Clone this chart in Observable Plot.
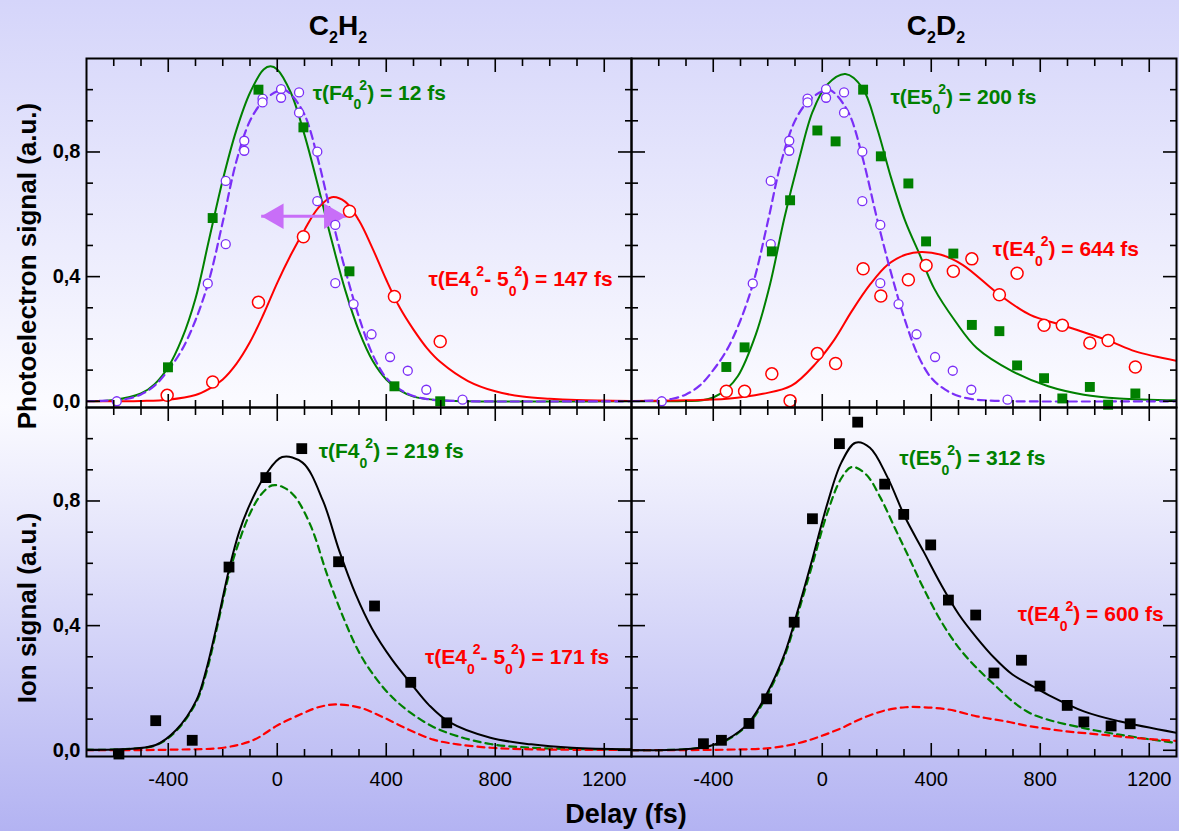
<!DOCTYPE html>
<html><head><meta charset="utf-8">
<script src="https://cdn.jsdelivr.net/npm/d3@7"></script>
<script src="https://cdn.jsdelivr.net/npm/@observablehq/plot@0.6"></script>
<style>
html,body{margin:0;padding:0;}
#root{position:relative;width:1179px;height:831px;overflow:hidden;
 background:linear-gradient(180deg,#d5d5fa 0%,#fbfbff 49%,#b3b3f2 100%);
 font-family:"Liberation Sans",Arial,Helvetica,sans-serif;}
#root svg{position:absolute;}
</style></head><body><div id="root"></div>
<script>
// ---------- axes ----------
const xDomain = [-700, 1300];
const yDomain = [-0.02, 1.1];
const xMajorTicks = [-400, 0, 400, 800, 1200];
const xTickLabels = ["-400", "0", "400", "800", "1200"];
const xMinorTicks = [-600, -500, -300, -200, -100, 100, 200, 300, 500, 600, 700, 900, 1000, 1100];
const yMajorTicks = [0, 0.4, 0.8];
const yTickLabels = ["0,0", "0,4", "0,8"];
const yMinorTicks = [0.1, 0.2, 0.3, 0.5, 0.6, 0.7, 0.9, 1.0];

const columnTitles = [["C", "2", "H", "2"], ["C", "2", "D", "2"]];
const rowLabels = ["Photoelectron signal (a.u.)", "Ion signal (a.u.)"];
const xLabel = "Delay (fs)";

// ---------- photoelectron, C2H2 ----------
const peH_greenX = [-401, -237, -69, 96, 265, 430, 598];
const peH_greenY = [0.109, 0.588, 1.0, 0.879, 0.417, 0.048, 0.0];
const peH_redX = [-404, -237, -69, 96, 265, 430, 598];
const peH_redY = [0.019, 0.062, 0.318, 0.528, 0.61, 0.336, 0.192];
// cross-correlation (purple), same in both columns
const xc_X = [-589, -255, -189, -189, -121, -121, -54, -54, 14, 14, 80, 80, 147, 147, 213, 213, 280, 346, 414, 479, 547, 680];
const xc_Y = [0.0, 0.378, 0.707, 0.504, 0.804, 0.836, 0.971, 0.959, 1.002, 0.974, 0.991, 0.926, 0.801, 0.642, 0.566, 0.379, 0.312, 0.215, 0.142, 0.098, 0.037, 0.005];
const xcFitX = [-700, -600, -550, -500, -450, -400, -350, -300, -250, -200, -150, -100, -50, 0, 25, 50, 100, 150, 200, 250, 300, 350, 400, 450, 500, 550, 600, 700, 1300];
const xcFitY = [0, 0.003, 0.008, 0.022, 0.05, 0.10, 0.165, 0.26, 0.39, 0.575, 0.77, 0.9, 0.965, 0.995, 1.0, 0.985, 0.92, 0.775, 0.59, 0.42, 0.27, 0.15, 0.075, 0.038, 0.017, 0.007, 0.003, 0, 0];
const peH_greenFitX = [-700, -600, -500, -450, -400, -350, -300, -250, -200, -150, -100, -50, -25, 0, 50, 100, 150, 200, 250, 300, 350, 400, 450, 500, 600, 700, 1300];
const peH_greenFitY = [0, 0.004, 0.025, 0.055, 0.11, 0.2, 0.33, 0.52, 0.71, 0.87, 0.99, 1.065, 1.075, 1.065, 0.99, 0.855, 0.69, 0.515, 0.355, 0.225, 0.13, 0.07, 0.035, 0.015, 0.003, 0, 0];
const peH_redFitX = [-700, -500, -400, -300, -250, -200, -150, -100, -50, 0, 50, 100, 150, 200, 250, 300, 350, 400, 450, 500, 550, 600, 700, 800, 900, 1000, 1100, 1300];
const peH_redFitY = [0, 0.001, 0.005, 0.02, 0.04, 0.07, 0.12, 0.19, 0.28, 0.38, 0.47, 0.55, 0.62, 0.655, 0.64, 0.58, 0.49, 0.39, 0.30, 0.23, 0.17, 0.125, 0.065, 0.032, 0.015, 0.008, 0.004, 0.001];
const arrowX = [-59, 254];
const arrowY = 0.594;

// ---------- photoelectron, C2D2 ----------
const peD_X = [-352, -285, -185, -118, -18, 49, 150, 215, 316, 381, 481, 549, 650, 715, 814, 881, 982, 1049, 1149];
const peD_greenY = [0.110, 0.173, 0.481, 0.645, 0.869, 0.834, 1.0, 0.786, 0.699, 0.513, 0.474, 0.245, 0.225, 0.115, 0.074, 0.009, 0.046, -0.011, 0.025];
const peD_redY = [0.032, 0.032, 0.088, 0.002, 0.153, 0.121, 0.425, 0.338, 0.39, 0.436, 0.417, 0.457, 0.342, 0.411, 0.244, 0.244, 0.187, 0.195, 0.11];
const peD_greenFitX = [-700, -500, -440, -400, -350, -310, -244, -192, -139, -87, -35, 18, 85, 148, 201, 253, 305, 358, 410, 489, 567, 698, 829, 960, 1090, 1300];
const peD_greenFitY = [0, 0.001, 0.003, 0.012, 0.04, 0.08, 0.214, 0.374, 0.588, 0.77, 0.93, 1.016, 1.05, 1.005, 0.877, 0.716, 0.577, 0.47, 0.363, 0.256, 0.171, 0.096, 0.048, 0.021, 0.009, 0.003];
const peD_redFitX = [-700, -500, -349, -218, -113, -22, 44, 109, 175, 240, 305, 364, 436, 515, 650, 763, 881, 1049, 1149, 1300];
const peD_redFitY = [0.001, 0.003, 0.008, 0.024, 0.05, 0.123, 0.197, 0.29, 0.374, 0.438, 0.47, 0.479, 0.47, 0.438, 0.342, 0.277, 0.244, 0.195, 0.16, 0.13];

// ---------- ion, C2H2 ----------
const ionH_X = [-581, -446, -312, -177, -42, 90, 225, 357, 490, 622];
const ionH_Y = [-0.012, 0.095, 0.032, 0.588, 0.875, 0.968, 0.605, 0.463, 0.218, 0.088];
const ionH_fitX = [-700, -573, -446, -371, -297, -260, -222, -177, -140, -100, -42, 18, 93, 168, 228, 288, 348, 422, 490, 557, 632, 782, 932, 1082, 1300];
const ionH_fitY = [0.002, 0.003, 0.017, 0.065, 0.16, 0.26, 0.40, 0.58, 0.70, 0.79, 0.885, 0.941, 0.923, 0.8, 0.639, 0.5, 0.39, 0.29, 0.215, 0.145, 0.09, 0.04, 0.019, 0.008, 0.003];
const ionH_greenX = [-700, -573, -446, -371, -297, -260, -222, -177, -140, -100, -60, -19, 20, 63, 123, 183, 243, 303, 363, 422, 490, 573, 662, 782, 932, 1300];
const ionH_greenY = [0.002, 0.003, 0.016, 0.062, 0.155, 0.25, 0.39, 0.565, 0.67, 0.76, 0.82, 0.85, 0.845, 0.816, 0.72, 0.564, 0.425, 0.31, 0.23, 0.17, 0.12, 0.075, 0.045, 0.02, 0.008, 0.002];
const ionH_redX = [-700, -379, -192, -87, 3, 93, 150, 213, 303, 393, 483, 573, 662, 782, 932, 1300];
const ionH_redY = [0, 0.002, 0.009, 0.033, 0.081, 0.118, 0.138, 0.147, 0.137, 0.104, 0.066, 0.034, 0.019, 0.008, 0.003, 0.001];

// ---------- ion, C2D2 ----------
const ionD_X = [-436, -370, -269, -204, -103, -36, 63, 130, 229, 299, 398, 463, 563, 630, 731, 799, 899, 960, 1060, 1130];
const ionD_Y = [0.021, 0.032, 0.086, 0.165, 0.411, 0.743, 0.984, 1.053, 0.854, 0.757, 0.659, 0.482, 0.434, 0.248, 0.289, 0.206, 0.144, 0.091, 0.078, 0.085];
const ionD_fitX = [-700, -506, -414, -349, -270, -205, -139, -87, -35, 18, 70, 122, 175, 240, 305, 371, 436, 502, 567, 632, 698, 763, 829, 960, 1090, 1300];
const ionD_fitY = [0, 0.003, 0.014, 0.035, 0.088, 0.179, 0.308, 0.457, 0.618, 0.789, 0.923, 0.987, 0.971, 0.875, 0.746, 0.639, 0.532, 0.435, 0.361, 0.296, 0.243, 0.21, 0.178, 0.125, 0.093, 0.056];
const ionD_greenX = [-700, -506, -414, -349, -270, -205, -139, -87, -35, 18, 70, 109, 161, 214, 266, 319, 371, 436, 502, 567, 632, 698, 763, 829, 960, 1090, 1300];
const ionD_greenY = [0, 0.003, 0.013, 0.033, 0.085, 0.172, 0.30, 0.445, 0.60, 0.76, 0.873, 0.909, 0.885, 0.81, 0.714, 0.617, 0.521, 0.414, 0.328, 0.264, 0.21, 0.157, 0.119, 0.098, 0.071, 0.05, 0.023];
const ionD_redX = [-700, -349, -192, -87, -9, 70, 148, 227, 305, 371, 462, 567, 672, 763, 894, 1025, 1156, 1300];
const ionD_redY = [0, 0.002, 0.007, 0.023, 0.044, 0.071, 0.103, 0.127, 0.138, 0.138, 0.131, 0.109, 0.093, 0.077, 0.061, 0.05, 0.039, 0.03];

// ---------- annotations (x in fs, y in a.u.) ----------
const annTL_X = [130, 555], annTL_Y = [0.99, 0.39], annTL_T = ["τ(F4_0^2) = 12 fs", "τ(E4_0^2- 5_0^2) = 147 fs"];
const annTR_X = [250, 626], annTR_Y = [0.975, 0.488], annTR_T = ["τ(E5_0^2) = 200 fs", "τ(E4_0^2) = 644 fs"];
const annBL_X = [152, 542], annBL_Y = [0.96, 0.299], annBL_T = ["τ(F4_0^2) = 219 fs", "τ(E4_0^2- 5_0^2) = 171 fs"];
const annBR_X = [283, 717], annBR_Y = [0.938, 0.437], annBR_T = ["τ(E5_0^2) = 312 fs", "τ(E4_0^2) = 600 fs"];

// ---------- styling ----------
const GREEN = "#008000", RED = "#ff0000", PURPLE = "#7b2ff7", ARROW = "#c86ef8", BLACK = "#000";
const FONT = "'Liberation Sans', Arial, Helvetica, sans-serif";
const PW = 545, PH = 349;

const pts = (xs, ys) => xs.map((x, i) => ({x, y: ys[i]}));
const fit = (xs, ys, stroke, dash) => Plot.line(pts(xs, ys), {x: "x", y: "y", stroke, strokeWidth: dash ? 2.2 : 2, strokeDasharray: dash || null, curve: "catmull-rom", clip: true});
const squares = (xs, ys, fill, r) => Plot.dot(pts(xs, ys), {x: "x", y: "y", symbol: "square", r, fill, stroke: "none"});
const circles = (xs, ys, stroke, r, sw) => Plot.dot(pts(xs, ys), {x: "x", y: "y", r, fill: "white", stroke, strokeWidth: sw});
const notes = (xs, ys, ts, colors) => ts.map((t, i) => Plot.text([{x: xs[i], y: ys[i], t}], {x: "x", y: "y", text: "t", fill: colors[i], fontSize: 21, fontWeight: "bold", textAnchor: "start", lineAnchor: "middle"}));

function richify(el) {
  const s = el.textContent;
  if (s.indexOf("_") < 0) return;
  const sel = d3.select(el);
  sel.text(null);
  const re = /_(\w)\^(\w)/g;
  let last = 0, m, pending = 0;
  while ((m = re.exec(s))) {
    sel.append("tspan").attr("dy", pending || null).text(s.slice(last, m.index));
    sel.append("tspan").attr("font-size", 14).attr("dy", 10).text(m[1]);
    sel.append("tspan").attr("font-size", 14).attr("dx", -2).attr("dy", -20).text(m[2]);
    pending = 10;
    last = re.lastIndex;
  }
  sel.append("tspan").attr("dy", pending).text(s.slice(last));
}

const root = document.getElementById("root");

function panel({left, top, mL, mB, showX, showY, marks}) {
  const mT = 8, mR = 4;
  const tickAxes = [
    Plot.axisX({anchor: "bottom", ticks: xMinorTicks, tickSize: -7, fill: "none", stroke: BLACK, strokeWidth: 1.6, label: null}),
    Plot.axisX({anchor: "bottom", ticks: xMajorTicks, tickSize: -13, fill: "none", stroke: BLACK, strokeWidth: 1.6, label: null}),
    Plot.axisX({anchor: "top", ticks: xMinorTicks, tickSize: -7, fill: "none", stroke: BLACK, strokeWidth: 1.6, label: null}),
    Plot.axisX({anchor: "top", ticks: xMajorTicks, tickSize: -13, fill: "none", stroke: BLACK, strokeWidth: 1.6, label: null}),
    Plot.axisY({anchor: "left", ticks: yMinorTicks, tickSize: -7, fill: "none", stroke: BLACK, strokeWidth: 1.6, label: null}),
    Plot.axisY({anchor: "left", ticks: yMajorTicks, tickSize: -14, fill: "none", stroke: BLACK, strokeWidth: 1.6, label: null}),
    Plot.axisY({anchor: "right", ticks: yMinorTicks, tickSize: -7, fill: "none", stroke: BLACK, strokeWidth: 1.6, label: null}),
    Plot.axisY({anchor: "right", ticks: yMajorTicks, tickSize: -14, fill: "none", stroke: BLACK, strokeWidth: 1.6, label: null})
  ];
  const labelAxes = [
    showX ? Plot.axisX({anchor: "bottom", ticks: xMajorTicks, tickSize: 0, tickPadding: 15, fontSize: 20, fill: BLACK, label: null,
      tickFormat: d => xTickLabels[xMajorTicks.indexOf(d)]}) : null,
    showY ? Plot.axisY({anchor: "left", ticks: yMajorTicks, tickSize: 0, tickPadding: 6, fontSize: 20, fontWeight: "bold", fill: BLACK, label: null,
      tickFormat: d => yTickLabels[yMajorTicks.indexOf(d)]}) : null
  ];
  const svg = Plot.plot({
    width: PW + mL + mR, height: PH + mT + mB,
    marginLeft: mL, marginRight: mR, marginTop: mT, marginBottom: mB,
    x: {domain: xDomain, label: null},
    y: {domain: yDomain, label: null},
    style: {background: "transparent", fontFamily: FONT, overflow: "visible", color: "black"},
    marks: [...marks, ...tickAxes, ...labelAxes, Plot.frame({stroke: BLACK, strokeWidth: 2})]
  });
  svg.style.left = left + "px";
  svg.style.top = top + "px";
  root.appendChild(svg);
  svg.querySelectorAll("text").forEach(richify);
}

// overlay titles & axis labels
const ov = d3.select(root).append("svg").attr("width", 1179).attr("height", 831)
  .style("left", "0px").style("top", "0px").attr("font-family", FONT).attr("font-weight", "bold");
[[338, columnTitles[0]], [936, columnTitles[1]]].forEach(([cx, parts]) => {
  const t = ov.append("text").attr("x", cx).attr("y", 35).attr("text-anchor", "middle").attr("font-size", 28);
  t.append("tspan").text(parts[0]);
  t.append("tspan").attr("font-size", 16).attr("dy", 8).text(parts[1]);
  t.append("tspan").attr("dy", -8).text(parts[2]);
  t.append("tspan").attr("font-size", 16).attr("dy", 8).text(parts[3]);
});
[[266, rowLabels[0]], [608, rowLabels[1]]].forEach(([cy, s]) => {
  ov.append("text").attr("transform", `translate(36,${cy}) rotate(-90)`).attr("text-anchor", "middle")
    .attr("font-size", 26).text(s);
});
ov.append("text").attr("x", 626).attr("y", 823).attr("text-anchor", "middle").attr("font-size", 27).text(xLabel);

// top-left: photoelectron C2H2
panel({left: 0, top: 50, mL: 86, mB: 4, showX: false, showY: true, marks: [
  fit(peH_greenFitX, peH_greenFitY, GREEN),
  fit(peH_redFitX, peH_redFitY, RED),
  fit(xcFitX, xcFitY, PURPLE, "8,5"),
  Plot.link([{x1: arrowX[0], x2: arrowX[1], y: arrowY}], {x1: "x1", x2: "x2", y1: "y", y2: "y", stroke: ARROW, strokeWidth: 3}),
  Plot.dot([{x: arrowX[0], y: arrowY}], {x: "x", y: "y", symbol: "triangle", rotate: -90, r: 9.5, fill: ARROW, stroke: "none", dx: 15}),
  Plot.dot([{x: arrowX[1], y: arrowY}], {x: "x", y: "y", symbol: "triangle", rotate: 90, r: 9.5, fill: ARROW, stroke: "none", dx: -15}),
  circles(peH_redX, peH_redY, RED, 6, 1.5),
  circles(xc_X, xc_Y, PURPLE, 4.5, 1.3),
  squares(peH_greenX, peH_greenY, GREEN, 5.6),
  ...notes(annTL_X, annTL_Y, annTL_T, [GREEN, RED])
]});

// top-right: photoelectron C2D2
panel({left: 627, top: 50, mL: 4, mB: 4, showX: false, showY: false, marks: [
  fit(peD_greenFitX, peD_greenFitY, GREEN),
  fit(peD_redFitX, peD_redFitY, RED),
  fit(xcFitX, xcFitY, PURPLE, "8,5"),
  circles(peD_X, peD_redY, RED, 6, 1.5),
  circles(xc_X, xc_Y, PURPLE, 4.5, 1.3),
  squares(peD_X, peD_greenY, GREEN, 5.6),
  ...notes(annTR_X, annTR_Y, annTR_T, [GREEN, RED])
]});

// bottom-left: ion C2H2
panel({left: 0, top: 399, mL: 86, mB: 50, showX: true, showY: true, marks: [
  fit(ionH_greenX, ionH_greenY, GREEN, "7,5"),
  fit(ionH_redX, ionH_redY, RED, "7,5"),
  fit(ionH_fitX, ionH_fitY, BLACK),
  squares(ionH_X, ionH_Y, BLACK, 6.1),
  ...notes(annBL_X, annBL_Y, annBL_T, [GREEN, RED])
]});

// bottom-right: ion C2D2
panel({left: 627, top: 399, mL: 4, mB: 50, showX: true, showY: false, marks: [
  fit(ionD_greenX, ionD_greenY, GREEN, "7,5"),
  fit(ionD_redX, ionD_redY, RED, "7,5"),
  fit(ionD_fitX, ionD_fitY, BLACK),
  squares(ionD_X, ionD_Y, BLACK, 6.1),
  ...notes(annBR_X, annBR_Y, annBR_T, [GREEN, RED])
]});
</script></body></html>
